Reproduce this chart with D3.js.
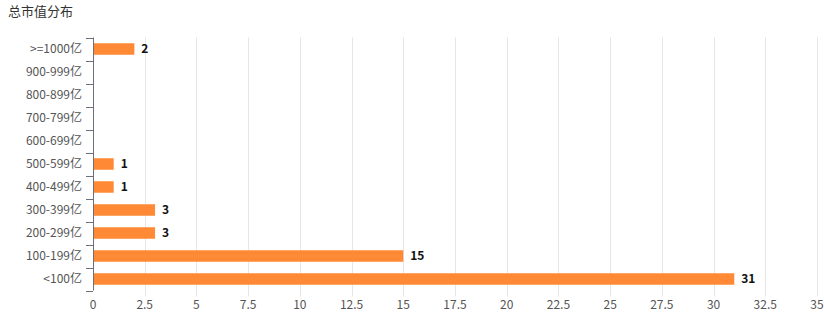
<!DOCTYPE html>
<meta charset="utf-8">
<head>
    <title>总市值分布</title>
    <script type="text/javascript" src="https://cdn.jsdelivr.net/npm/d3@7/dist/d3.min.js"></script>
    <style>
        body { margin: 0; background: #fff; font-family: "Noto Sans CJK SC", "Noto Sans", sans-serif; }
    </style>
</head>
<body>
    <svg></svg>
    <script>
        // chart data
        var categories = [">=1000亿", "900-999亿", "800-899亿", "700-799亿", "600-699亿",
            "500-599亿", "400-499亿", "300-399亿", "200-299亿", "100-199亿", "<100亿"];
        var counts = [2, 0, 0, 0, 0, 1, 1, 3, 3, 15, 31];
        var xTicks = [0, 2.5, 5, 7.5, 10, 12.5, 15, 17.5, 20, 22.5, 25, 27.5, 30, 32.5, 35];
        var title = "总市值分布";

        w = 824;
        h = 314;
        margin = { top: 37.5, right: 7, bottom: 23.5, left: 93 };

        var svg = d3.select("svg")
            .attr("width", w)
            .attr("height", h);

        svg.append("text")
            .attr("x", 8)
            .attr("y", 16)
            .style("font-size", "13px")
            .style("fill", "#333")
            .text(title);

        var x = d3.scaleLinear()
            .domain([0, 35])
            .range([margin.left, w - margin.right]);

        var y = d3.scaleBand()
            .domain(categories)
            .range([margin.top, h - margin.bottom])
            .paddingInner(0.5)
            .paddingOuter(0.25);

        // grid lines (extend below plot as ticks)
        svg.append("g")
            .attr("id", "grid")
            .selectAll("line")
            .data(xTicks.slice(1))
            .enter().append("line")
            .attr("x1", function (d) { return Math.round(x(d)) + 0.5 })
            .attr("x2", function (d) { return Math.round(x(d)) + 0.5 })
            .attr("y1", margin.top)
            .attr("y2", h - margin.bottom + 6)
            .style("stroke", "#e6e6e6")
            .style("stroke-width", 1);

        // x labels
        svg.append("g")
            .selectAll("text")
            .data(xTicks)
            .enter().append("text")
            .attr("x", function (d) { return x(d) })
            .attr("y", 309)
            .attr("text-anchor", "middle")
            .style("font-size", "12px")
            .style("fill", "#555")
            .text(function (d) { return d });

        // bars
        svg.append("g")
            .selectAll("rect")
            .data(categories)
            .enter().append("rect")
            .attr("x", x(0))
            .attr("y", function (d) { return y(d) })
            .attr("width", function (d, i) { return x(counts[i]) - x(0) })
            .attr("height", y.bandwidth())
            .attr("fill", "#ff8935")
            .attr("display", function (d, i) { return counts[i] > 0 ? null : "none" });

        // value labels
        svg.append("g")
            .selectAll("text")
            .data(categories)
            .enter().append("text")
            .filter(function (d, i) { return counts[i] > 0 })
            .attr("x", function (d) { return x(counts[categories.indexOf(d)]) + 7 })
            .attr("y", function (d) { return y(d) + y.bandwidth() / 2 })
            .attr("dy", "0.36em")
            .style("font-size", "12px")
            .style("font-weight", "bold")
            .style("fill", "#111")
            .text(function (d) { return counts[categories.indexOf(d)] });

        // y axis line + boundary ticks
        var yAxis = svg.append("g").attr("id", "yaxis");
        var step = y.step();
        var bounds = d3.range(categories.length + 1).map(function (i) { return margin.top + i * step });

        yAxis.append("line")
            .attr("x1", x(0) + 0.5)
            .attr("x2", x(0) + 0.5)
            .attr("y1", margin.top)
            .attr("y2", h - margin.bottom)
            .style("stroke", "#6e7079");

        yAxis.selectAll(".tick")
            .data(bounds)
            .enter().append("line")
            .attr("x1", x(0) - 7)
            .attr("x2", x(0))
            .attr("y1", function (d) { return Math.round(d) + 0.5 })
            .attr("y2", function (d) { return Math.round(d) + 0.5 })
            .style("stroke", "#6e7079");

        yAxis.selectAll("text")
            .data(categories)
            .enter().append("text")
            .attr("x", x(0) - 11)
            .attr("y", function (d) { return y(d) + y.bandwidth() / 2 })
            .attr("dy", "0.36em")
            .attr("text-anchor", "end")
            .style("font-size", "12px")
            .style("fill", "#555")
            .text(function (d) { return d });
    </script>
</body>
